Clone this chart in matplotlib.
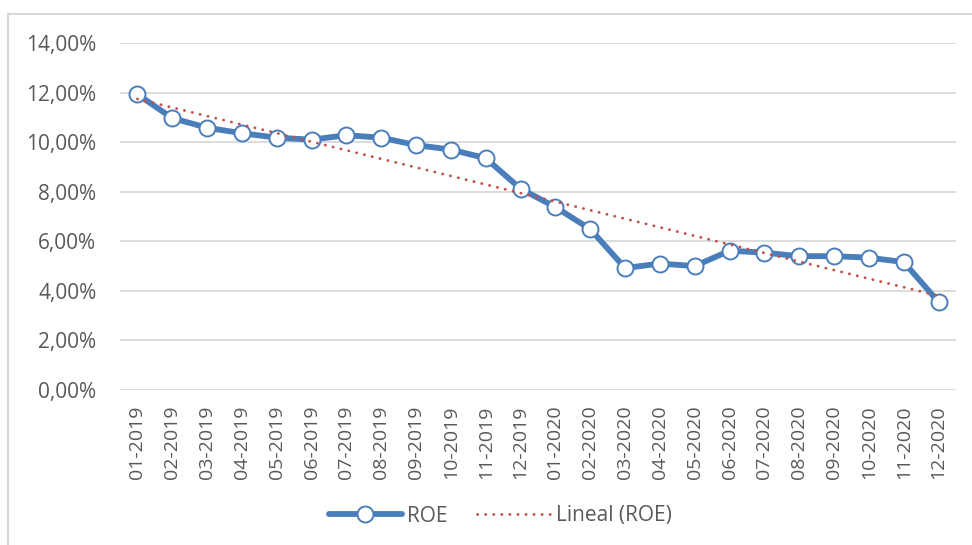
import matplotlib
matplotlib.use('Agg')
import matplotlib.pyplot as plt
from matplotlib.patches import Rectangle
from matplotlib.ticker import FuncFormatter
import numpy as np

plt.rcParams['font.family'] = ['Open Sans', 'DejaVu Sans']

months = ['01-2019', '02-2019', '03-2019', '04-2019', '05-2019', '06-2019',
          '07-2019', '08-2019', '09-2019', '10-2019', '11-2019', '12-2019',
          '01-2020', '02-2020', '03-2020', '04-2020', '05-2020', '06-2020',
          '07-2020', '08-2020', '09-2020', '10-2020', '11-2020', '12-2020']
roe = [11.93, 10.97, 10.58, 10.36, 10.18, 10.10, 10.28, 10.18, 9.88, 9.70,
       9.35, 8.12, 7.38, 6.49, 4.92, 5.10, 5.00, 5.62, 5.54, 5.40, 5.40,
       5.34, 5.16, 3.55]

blue = '#4A7EBB'
red = '#C0504D'
text_col = '#595959'
grid_col = '#D9D9D9'

fig = plt.figure(figsize=(9.72, 5.45), dpi=100)
W, H = 972, 545
ax = fig.add_axes([120 / W, 1 - 390 / H, (956 - 120) / W, (390 - 43) / H])

x = np.arange(len(months))
# linear trend line (Excel "Lineal")
k, b = np.polyfit(x, roe, 1)
trend = k * x + b

ax.plot(x, roe, color=blue, lw=4.2, marker='o', markersize=11.5,
        markerfacecolor='white', markeredgecolor=blue, markeredgewidth=1.4,
        label='ROE', zorder=3, solid_capstyle='round')
ax.plot(x, trend, color=red, lw=2.0, linestyle=(0, (0.1, 2.8)),
        dash_capstyle='round', label='Lineal (ROE)', zorder=4)

ax.set_xlim(-0.5, len(months) - 0.5)
ax.set_ylim(0, 14)
ax.set_yticks(np.arange(0, 15, 2))
ax.yaxis.set_major_formatter(FuncFormatter(lambda v, p: f'{v:.2f}%'.replace('.', ',')))
ax.set_xticks(x)
ax.set_xticklabels(months, rotation=90)
ax.tick_params(axis='both', length=0, labelcolor=text_col)
ax.tick_params(axis='y', pad=17, labelsize=15)
ax.tick_params(axis='x', pad=11, labelsize=14)
ax.grid(axis='y', color=grid_col, lw=1.3)
ax.set_axisbelow(True)
for s in ax.spines.values():
    s.set_visible(False)

# chart frame
fig.patches.append(Rectangle((8 / W, -0.1), 1.2, 1 - 14 / H + 0.1,
                             transform=fig.transFigure, fill=False,
                             edgecolor=grid_col, lw=1.5))

fig.legend(loc='center', bbox_to_anchor=(500 / W, 1 - 516 / H), ncol=2,
           frameon=False, fontsize=15, labelcolor=text_col,
           handlelength=3.5, columnspacing=1.45, handletextpad=0.25)

fig.savefig('out.png', dpi=100)
